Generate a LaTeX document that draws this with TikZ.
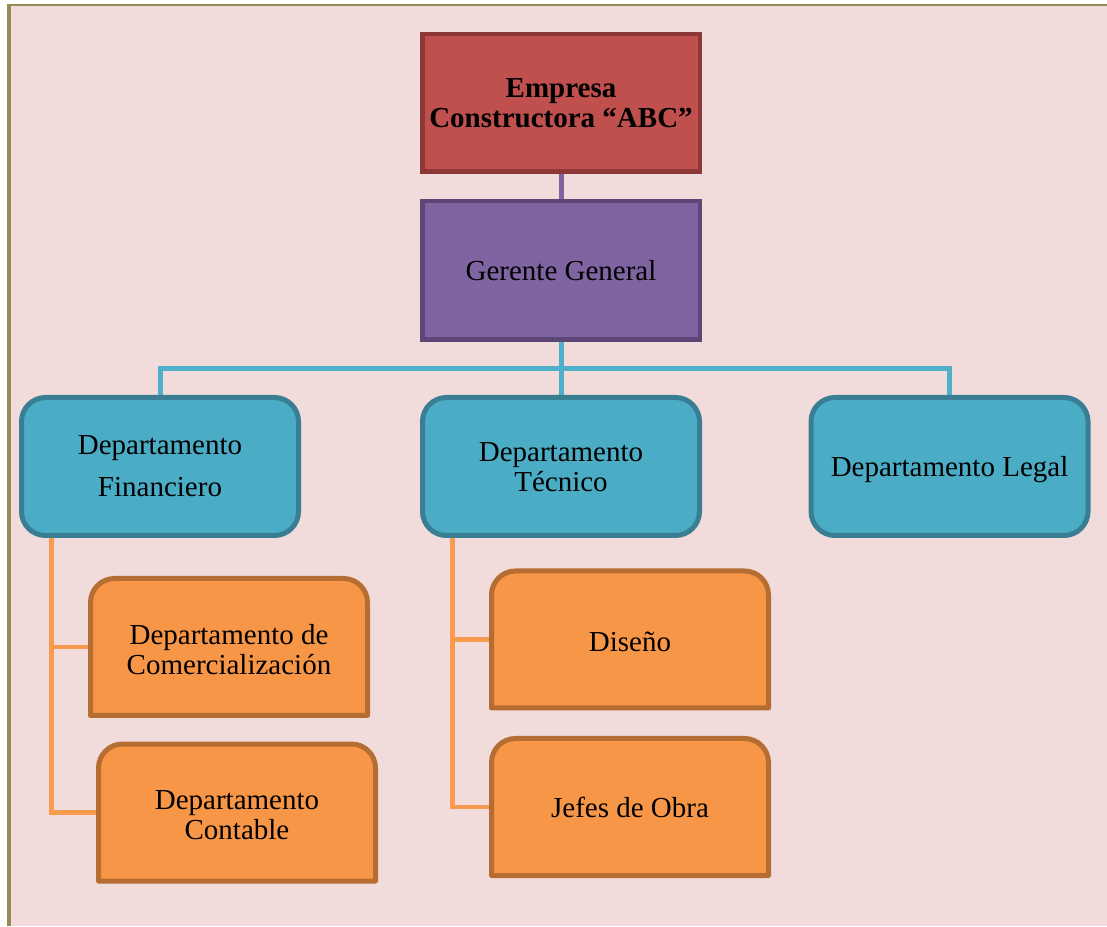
\documentclass[tikz,border=0pt]{standalone}
\usepackage{fontspec}
\setmainfont{Liberation Serif}
\usetikzlibrary{calc}
\definecolor{bgpink}{HTML}{F2DCDB}
\definecolor{frameol}{HTML}{968A57}
\definecolor{redfill}{HTML}{C0504D}
\definecolor{reddraw}{HTML}{8C3836}
\definecolor{purfill}{HTML}{8064A2}
\definecolor{purdraw}{HTML}{5C4776}
\definecolor{bluefill}{HTML}{4BACC6}
\definecolor{bluedraw}{HTML}{3A7E93}
\definecolor{orafill}{HTML}{F79646}
\definecolor{oradraw}{HTML}{B66D31}
\definecolor{oraline}{HTML}{F89B4F}
\definecolor{blueline}{HTML}{4FAFC8}
\pgfdeclarelayer{back}
\pgfdeclarelayer{lines}
\pgfdeclarelayer{shapes}
\pgfsetlayers{back,lines,shapes,main}
\newcommand\oshape[1]{%
  \draw[line width=5, draw=oradraw, fill=orafill, line join=round]
    (#1.south west) -- ($(#1.north west)+(0,-24)$)
    arc[start angle=180,end angle=90,radius=24]
    -- ($(#1.north east)+(-24,0)$)
    arc[start angle=90,end angle=0,radius=24]
    -- (#1.south east) -- cycle;}
\newcommand\dn[2]{\raisebox{-#1}[\height][\depth]{#2}}
\begin{document}
\begin{tikzpicture}[x=1pt,y=1pt,
  txt/.style={align=center, text=black, inner sep=0, outer sep=0,
    font=\fontsize{29}{30}\selectfont},
  redbox/.style={txt, rectangle, draw=reddraw, fill=redfill, line width=4.5,
    minimum width=277.5, minimum height=137.5},
  purbox/.style={txt, rectangle, draw=purdraw, fill=purfill, line width=4.5,
    minimum width=277.5, minimum height=138.5},
  bluebox/.style={txt, rectangle, rounded corners=24, draw=bluedraw, fill=bluefill,
    line width=5, minimum width=277, minimum height=138},
  orabox/.style={txt, rectangle, minimum width=277, minimum height=137},
  purconn/.style={draw=purfill, line width=5},
  blueconn/.style={draw=blueline, line width=5},
  oraconn/.style={draw=oraline, line width=4.5}]
\useasboundingbox (0,0) rectangle (1107,926);
\begin{pgfonlayer}{back}
  \fill[bgpink] (9,0) rectangle (1107,921);
  \draw[frameol, line width=2.5] (7,921) -- (1107,921);
  \draw[frameol, line width=4] (9,0) -- (9,922.25);
\end{pgfonlayer}

\node[redbox] (emp) at (561,823) {\bfseries Empresa\\\bfseries Constructora “ABC”};
\node[purbox] (ger) at (561,655.5) {Gerente General};
\node[bluebox] (fin) at (160,459.5) {Departamento\\[12pt]Financiero};
\node[bluebox] (tec) at (561,459.5) {\dn{1pt}{Departamento}\\\dn{1pt}{Técnico}};
\node[bluebox] (leg) at (949.5,459.5) {\dn{3pt}{Departamento Legal}};
\node[orabox] (com) at (229,279) {\dn{3pt}{Departamento de}\\\dn{3pt}{Comercialización}};
\node[orabox] (con) at (237,113.5) {\dn{3pt}{Departamento}\\\dn{3pt}{Contable}};
\node[orabox] (dis) at (630,286.5) {\dn{2pt}{Diseño}};
\node[orabox] (jef) at (630,119) {Jefes de Obra};

\begin{pgfonlayer}{shapes}
  \oshape{com}\oshape{con}\oshape{dis}\oshape{jef}
\end{pgfonlayer}

\coordinate (bus) at (561,557.5);
\coordinate (fa) at ($(fin.south west)+(30,0)$);
\coordinate (ta) at ($(tec.south west)+(30,0)$);
\begin{pgfonlayer}{lines}
  \draw[purconn] (emp.south) -- (ger.north);
  \draw[blueconn] (ger.south) -- (tec.north);
  \draw[blueconn] (fin.north) |- (bus) -| (leg.north);
  \draw[oraconn] (fa) |- (com.west);
  \draw[oraconn] (fa) |- (con.west);
  \draw[oraconn] (ta) |- (dis.west);
  \draw[oraconn] (ta) |- (jef.west);
\end{pgfonlayer}
\end{tikzpicture}
\end{document}
